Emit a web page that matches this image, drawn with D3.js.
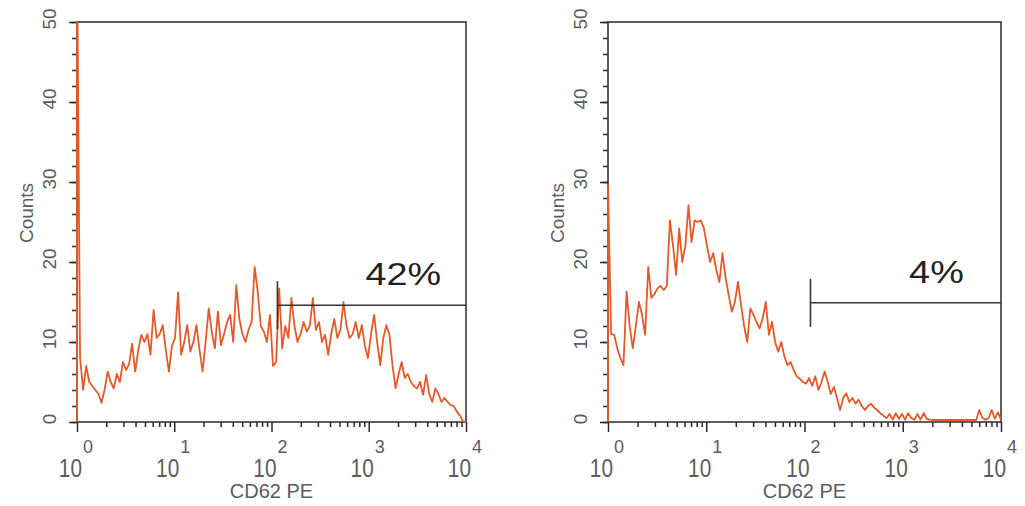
<!DOCTYPE html>
<html>
<head>
<meta charset="utf-8">
<script src="https://cdn.jsdelivr.net/npm/d3@7"></script>
<style>
  body { margin: 0; background: #fff; }
  svg { display: block; }
</style>
</head>
<body>
<svg width="1025" height="506"></svg>
<script>
const xTickValues = [1, 10, 100, 1000, 10000];
const xTickExponents = ["0", "1", "2", "3", "4"];
const yTickValues = [0, 10, 20, 30, 40, 50];

// counts per channel, channels spread evenly over 4 log decades
const countsLeft = [
  60, 8, 4, 7, 5, 4.5, 4, 3.5, 2.4, 4,
  6.3, 5, 4.2, 6, 5, 7.5, 6.5, 7.2, 9.8, 6.3,
  9, 10.9, 10, 11, 8.4, 14, 10.5, 11, 12.1, 9,
  6.3, 9.5, 10.5, 16.2, 8.4, 10, 12.1, 8.8, 10, 12.1,
  9, 6.3, 10, 14.2, 11.3, 9.2, 13.8, 9.6, 11, 12.5,
  13.4, 10, 17.1, 12.9, 11, 10, 11.5, 12.5, 19.4, 16.3,
  12, 11.3, 10, 13.4, 7, 7.5, 16.7, 9.2, 12, 10.5,
  15.5, 12, 10, 11, 12.5, 11.3, 12, 15.5, 11.5, 12.5,
  10, 10.9, 8.4, 11, 12.9, 10.5, 11.5, 15, 12, 10.5,
  11, 12.5, 10.5, 12.1, 9.5, 8, 11, 13.4, 10, 7.1,
  10.5, 12.1, 10.9, 7.1, 4.2, 6, 7.5, 5.5, 6, 5,
  4.5, 4.2, 5, 3.4, 5.9, 3.5, 2.5, 4.2, 3.5, 2.5,
  3, 2.5, 2.1, 2, 1.3, 0.8, 0.1, 0
];
const countsRight = [
  29.6, 11, 10.9, 9.2, 8, 7.1, 16.3, 12, 9.2, 12,
  15, 13.4, 10.9, 19.4, 15.5, 16, 16.7, 17, 16.5, 17,
  25.2, 22.1, 18.4, 24.2, 20, 22, 27.1, 22.5, 25.2, 25,
  25.2, 24.2, 22, 20, 21.1, 19, 17.5, 21.1, 18, 15.9,
  13.8, 15, 17.5, 14.6, 12, 10, 14.2, 13.4, 12.5, 11.7,
  13, 15, 10.9, 12.5, 10, 8.8, 10, 8.2, 7.1, 7.5,
  6.5, 5.7, 5.4, 5, 4.8, 5.5, 4.5, 5.7, 4, 5,
  6.3, 5, 3.5, 4.4, 3, 1.5, 3, 3.6, 2.5, 3,
  2.3, 2.8, 2, 1.5, 2, 2.3, 1.8, 1.5, 1.1, 0.8,
  0.5, 1, 0.3, 1.1, 0.4, 1, 0.3, 1.1, 0.5, 0.3,
  1, 0.3, 1.1, 0.4, 0.3, 0.25, 0.25, 0.25, 0.25, 0.25,
  0.25, 0.25, 0.25, 0.25, 0.25, 0.25, 0.25, 0.25, 0.25, 0.25,
  1.5, 0.5, 0.3, 0.5, 1.5, 0.4, 1.2, 0.3
];

const gateStart = [115, 115];
const gateLevel = [14.6, 14.9];
const gateLabels = ["42%", "4%"];
const xTitle = "CD62 PE";
const yTitle = "Counts";

const plotTop = 22, plotBottom = 422;
const lineColor = "#e35a28";
const axisColor = "#2a2a2a";
const textColor = "#5c5c5c";
const font = "'Liberation Sans', Arial, sans-serif";

const panels = [
  {left: 77, width: 389, counts: countsLeft},
  {left: 608, width: 393, counts: countsRight}
];

const svg = d3.select("svg");

function renderPanel(p, k) {
  var x = d3.scaleLog().domain([1, 10000]).range([p.left, p.left + p.width]);
  var y = d3.scaleLinear().domain([0, 50]).range([plotBottom, plotTop]);
  var g = svg.append("g");

  // frame
  g.append("rect")
   .attr("x", p.left).attr("y", plotTop)
   .attr("width", p.width).attr("height", plotBottom - plotTop)
   .attr("fill", "none").attr("stroke", axisColor).attr("stroke-width", 1.5);

  // y ticks (minor every 2, major every 10)
  var yMinor = d3.range(0, 51, 2);
  g.append("g")
   .attr("transform", "translate(" + p.left + ",0)")
   .call(d3.axisLeft(y).tickValues(yMinor).tickSize(5).tickFormat(""))
   .call(styleAxis);
  g.append("g")
   .attr("transform", "translate(" + p.left + ",0)")
   .call(d3.axisLeft(y).tickValues(yTickValues).tickSize(8).tickFormat(""))
   .call(styleAxis);

  g.selectAll(".ylab").data(yTickValues).enter().append("text")
   .attr("transform", function(d) { return "translate(" + (p.left - 21) + "," + (y(d) - 3) + ") rotate(-90)"; })
   .attr("text-anchor", "middle")
   .attr("font-family", font).attr("font-size", 19)
   .attr("fill", textColor)
   .text(function(d) { return d; });

  g.append("text")
   .attr("transform", "translate(" + (p.left - 44) + "," + 213 + ") rotate(-90)")
   .attr("text-anchor", "middle")
   .attr("font-family", font).attr("font-size", 19)
   .attr("fill", textColor)
   .text(yTitle);

  // x ticks: log minor and decade major
  var xMinor = x.ticks().filter(function(v) { return xTickValues.indexOf(v) < 0; });
  g.append("g")
   .attr("transform", "translate(0," + plotBottom + ")")
   .call(d3.axisBottom(x).tickValues(xMinor).tickSize(5).tickFormat(""))
   .call(styleAxis);
  g.append("g")
   .attr("transform", "translate(0," + plotBottom + ")")
   .call(d3.axisBottom(x).tickValues(xTickValues).tickSize(10).tickFormat(""))
   .call(styleAxis);

  // "10" base drawn condensed, exponent as superscript
  g.selectAll(".xbase").data(xTickValues).enter().append("text")
   .attr("transform", function(d) { return "translate(" + (x(d) + 5) + ",477) scale(0.8,1)"; })
   .attr("text-anchor", "end")
   .attr("font-family", font).attr("font-size", 26)
   .attr("fill", textColor)
   .text("10");
  g.selectAll(".xexp").data(xTickValues).enter().append("text")
   .attr("x", function(d) { return x(d) + 6; })
   .attr("y", 453)
   .attr("font-family", font).attr("font-size", 18)
   .attr("fill", textColor)
   .text(function(d, i) { return xTickExponents[i]; });

  g.append("text")
   .attr("x", p.left + p.width / 2).attr("y", 498)
   .attr("text-anchor", "middle")
   .attr("font-family", font).attr("font-size", 20)
   .attr("fill", textColor)
   .text(xTitle);

  // histogram
  var clipId = "clip" + k;
  svg.append("clipPath").attr("id", clipId).append("rect")
     .attr("x", p.left - 1).attr("y", plotTop)
     .attr("width", p.width + 2).attr("height", plotBottom - plotTop + 1);

  var n = p.counts.length;
  var pts = p.counts.map(function(c, i) { return [Math.pow(10, 4 * i / (n - 1)), c]; });
  pts.unshift([1, 0]);
  var line = d3.line()
               .x(function(d) { return x(d[0]); })
               .y(function(d) { return y(d[1]); });
  g.append("path").datum(pts)
   .attr("d", line)
   .attr("fill", "none")
   .attr("stroke", lineColor)
   .attr("stroke-width", 1.8)
   .attr("stroke-linejoin", "round")
   .attr("clip-path", "url(#" + clipId + ")");

  // gate marker
  var gx = x(gateStart[k]), gy = y(gateLevel[k]);
  g.append("line")
   .attr("x1", gx).attr("x2", gx)
   .attr("y1", y(gateLevel[k] + 3)).attr("y2", y(gateLevel[k] - 3))
   .attr("stroke", "#333").attr("stroke-width", 1.6);
  g.append("line")
   .attr("x1", gx).attr("x2", x(10000))
   .attr("y1", gy).attr("y2", gy)
   .attr("stroke", "#333").attr("stroke-width", 1.6);
  var lab = g.append("text")
   .attr("x", gx + 126).attr("y", gy - 20)
   .attr("text-anchor", "middle")
   .attr("font-family", font).attr("font-size", 31)
   .attr("fill", "#222")
   .text(gateLabels[k]);
  var len = lab.node().getComputedTextLength();
  lab.attr("textLength", len * 1.22).attr("lengthAdjust", "spacingAndGlyphs");
}

function styleAxis(g) {
  g.select(".domain").remove();
  g.selectAll(".tick line").attr("stroke", axisColor).attr("stroke-width", 1.5);
}

panels.forEach(renderPanel);
</script>
</body>
</html>
